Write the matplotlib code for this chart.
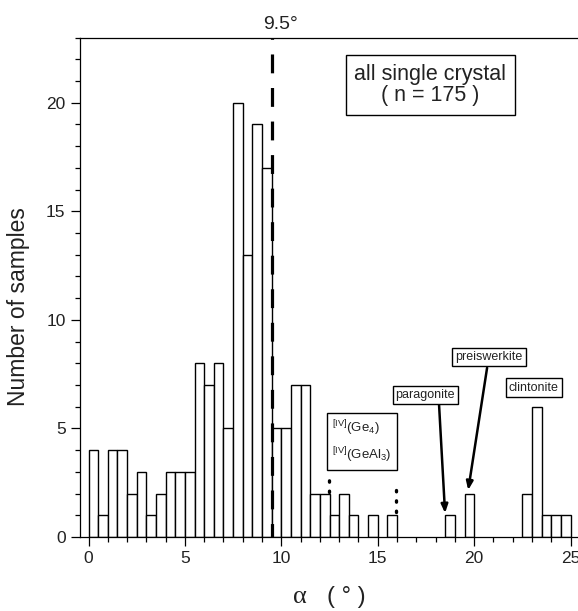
import numpy as np
import matplotlib
matplotlib.use("Agg")
import matplotlib.pyplot as plt
from matplotlib.ticker import MultipleLocator

plt.rcParams['font.family'] = ['Liberation Sans', 'DejaVu Sans']
plt.rcParams['mathtext.fontset'] = 'custom'
plt.rcParams['mathtext.rm'] = 'Liberation Sans'
plt.rcParams['mathtext.it'] = 'Liberation Sans:italic'
plt.rcParams['mathtext.bf'] = 'Liberation Sans:bold'

# ---- data ----
bin_width = 0.5
bin_left = np.arange(0, 25, bin_width)
counts = [4, 1, 4, 4, 2, 3, 1, 2, 3, 3,
          3, 8, 7, 8, 5, 20, 13, 19, 17, 5,
          5, 7, 7, 2, 2, 1, 2, 1, 0, 1,
          0, 1, 0, 0, 0, 0, 0, 1, 0, 2,
          0, 0, 0, 0, 0, 2, 6, 1, 1, 1]
threshold = 9.5
x_ticks = [0, 5, 10, 15, 20, 25]
y_ticks = [0, 5, 10, 15, 20]
box_title = "all single crystal\n( n = 175 )"
ge_label = "$^{\\rm [IV]}$(Ge$_4$)\n$^{\\rm [IV]}$(GeAl$_3$)"
ge_range = [12.45, 15.97]
ge_dot_y = [(2.08, 2.85), (1.17, 2.54)]
labels = ["paragonite", "preiswerkite", "clintonite"]
label_pos = [(17.47, 6.55), (20.78, 8.28), (23.09, 6.88)]
arrow_start = [(18.18, 6.07), (20.67, 7.79), None]
arrow_end = [(18.49, 1.10), (19.69, 2.16), None]

W, H = 578, 611
fig = plt.figure(figsize=(W / 100, H / 100), dpi=100)
ax = fig.add_axes([79.5 / W, (H - 537) / H, (578.5 - 79.5) / W, (537 - 37.5) / H])

counts_arr = np.array(counts)
mask = counts_arr > 0
ax.bar(bin_left[mask], counts_arr[mask], width=bin_width, align='edge',
       facecolor='white', edgecolor='black', linewidth=1.0, zorder=2)

ax.set_xlim(-0.467, 25.41)
ax.set_ylim(0, 23)

ax.plot([threshold, threshold], [23, 0], color='black', lw=2.3,
        linestyle=(5.5, (5.9, 4.6)), zorder=5, clip_on=False)
ax.text(9.07, 23.39, "9.5°", fontsize=14, ha='left', va='baseline',
        color='#222222', clip_on=False)

ax.spines['right'].set_visible(False)
for s in ['left', 'bottom', 'top']:
    ax.spines[s].set_linewidth(0.9)

ax.set_xticks(x_ticks)
ax.set_yticks(y_ticks)
ax.xaxis.set_minor_locator(MultipleLocator(1))
ax.yaxis.set_minor_locator(MultipleLocator(1))
ax.tick_params(which='major', direction='out', length=6.5, width=0.9,
               labelsize=12.5, labelcolor='#222222', pad=3.5)
ax.tick_params(which='minor', direction='out', length=3.8, width=0.9)
ax.tick_params(top=False, right=False)

# top axis ticks (fractional)
ax_top = ax.twiny()
ax_top.set_xlim(0, 1)
ax_top.set_xticks(np.arange(0.1, 0.95, 0.1))
ax_top.tick_params(axis='x', direction='in', length=2, width=0.8,
                   labeltop=False, top=True)
for s in ax_top.spines.values():
    s.set_visible(False)
ax_top.set_zorder(ax.get_zorder() - 1)

# info box
ax.text(17.73, 20.81, box_title, fontsize=15.5, ha='center', va='center',
        color='#222222', linespacing=1.05, zorder=6,
        bbox=dict(boxstyle='square,pad=0.4', facecolor='white',
                  edgecolor='black', linewidth=1.0))

# Ge box
ax.text(14.16, 4.40, ge_label, fontsize=9.5, ha='center', va='center',
        multialignment='left', color='#222222', linespacing=1.55, zorder=6,
        bbox=dict(boxstyle='square,pad=0.4', facecolor='white',
                  edgecolor='black', linewidth=1.0))
for xr, (y0, y1) in zip(ge_range, ge_dot_y):
    ax.plot([xr, xr], [y0, y1], color='black', lw=2.4,
            linestyle=(0, (0.4, 2.7)), dash_capstyle='round', zorder=6)

# mineral labels and arrows
for lab, (lx, ly), st, en in zip(labels, label_pos, arrow_start, arrow_end):
    ax.text(lx, ly, lab, fontsize=9, ha='center', va='center', color='#222222',
            zorder=7,
            bbox=dict(boxstyle='square,pad=0.25', facecolor='white',
                      edgecolor='black', linewidth=1.0))
    if st is not None:
        ax.annotate("", xy=en, xytext=st,
                    arrowprops=dict(arrowstyle='-|>,head_length=0.5,head_width=0.2',
                                    color='black', lw=1.8, shrinkA=0, shrinkB=0),
                    zorder=6)

# axis labels
fig.text(19 / W, 1 - 306.5 / H, "Number of samples", rotation=90,
         fontsize=16.5, ha='center', va='center', color='#222222')
fig.text(299.5 / W, 1 - 603 / H, "α", fontsize=19, ha='center',
         va='baseline', family=['Liberation Serif', 'DejaVu Serif'],
         color='#222222')
fig.text(327 / W, 1 - 603 / H, "( ° )", fontsize=17, ha='left',
         va='baseline', color='#222222')

fig.savefig("out.png", dpi=100)
